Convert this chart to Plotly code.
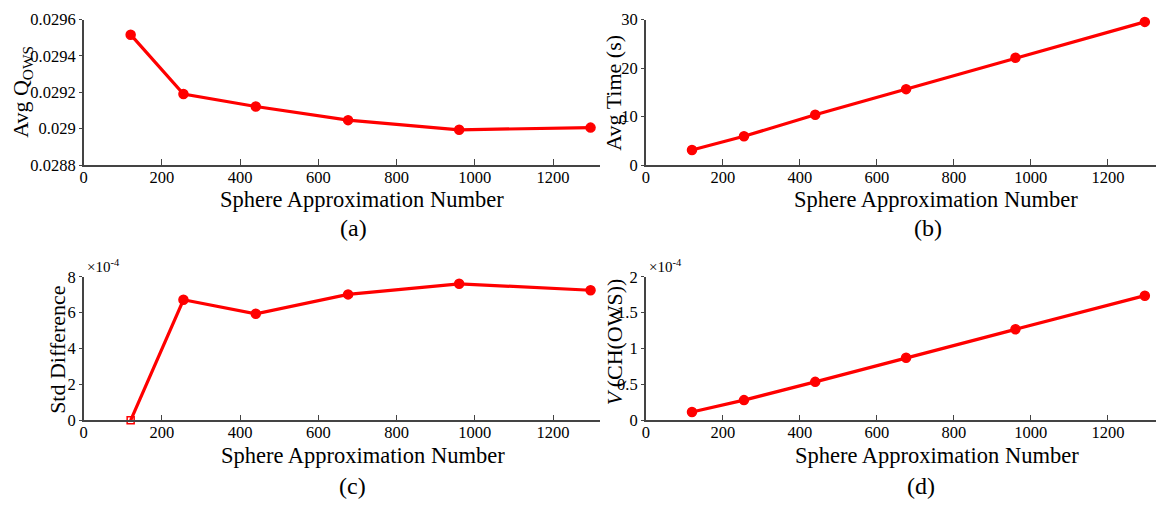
import plotly.graph_objects as go

# ---- data ----
sphere_numbers = [120, 255, 440, 676, 960, 1296]
avg_q_ows = [0.029517, 0.029191, 0.029122, 0.029047, 0.028994, 0.029006]
avg_time_s = [3.1, 5.94, 10.37, 15.66, 22.14, 29.53]
std_difference_e4 = [0.0, 6.72, 5.94, 7.02, 7.61, 7.25]
v_ch_ows_e4 = [0.116, 0.282, 0.536, 0.871, 1.268, 1.737]

x_tick_vals = [0, 200, 400, 600, 800, 1000, 1200]
ya_tick_vals = [0.0288, 0.029, 0.0292, 0.0294, 0.0296]
ya_tick_text = ["0.0288", "0.029", "0.0292", "0.0294", "0.0296"]
yb_tick_vals = [0, 10, 20, 30]
yc_tick_vals = [0, 2, 4, 6, 8]
yd_tick_vals = [0, 0.5, 1, 1.5, 2]
yd_tick_text = ["0", "0.5", "1", "1.5", "2"]

x_title = "Sphere Approximation Number"
captions = ["(a)", "(b)", "(c)", "(d)"]

W, H = 1158, 518
FONT = "Liberation Serif"
RED = "#ff0000"
AXC = "#444444"


def px(x):
    return x / W


def py(y):
    return 1 - y / H


fig = go.Figure()
series = [avg_q_ows, avg_time_s, std_difference_e4, v_ch_ows_e4]
for i, ys in enumerate(series):
    sfx = "" if i == 0 else str(i + 1)
    if i == 2:
        symbols = ["square-open"] + ["circle"] * (len(ys) - 1)
        sizes = [7] + [9] * (len(ys) - 1)
    else:
        symbols = "circle"
        sizes = 9
    fig.add_trace(go.Scatter(
        x=sphere_numbers, y=ys, mode="lines+markers",
        line=dict(color=RED, width=3.2),
        marker=dict(color=RED, size=sizes, symbol=symbols, opacity=1,
                    line=dict(color=RED, width=1.5)),
        xaxis="x" + sfx, yaxis="y" + sfx, cliponaxis=False, showlegend=False,
    ))

xdom_left = [px(80), px(598)]
xdom_right = [px(644), px(1156)]
ydom_top = [py(162), py(11)]
ydom_bot = [py(427), py(278)]

tickfont = dict(family=FONT, size=16.5, color="black")


def xax(dom, anchor, rng):
    return dict(domain=dom, anchor=anchor, range=rng, showline=True, linecolor=AXC,
                linewidth=1.5, ticks="inside", ticklen=6, tickcolor=AXC, tickwidth=1.2,
                tickvals=x_tick_vals, showgrid=False, zeroline=False, tickfont=tickfont,
                ticklabelstandoff=-4)


def yax(dom, anchor, rng, vals, text=None):
    d = dict(domain=dom, anchor=anchor, range=rng, showline=True, linecolor=AXC,
             linewidth=1.5, ticks="outside", ticklen=3, tickcolor=AXC, tickwidth=1.2,
             tickvals=vals, showgrid=False, zeroline=False, tickfont=tickfont,
             ticklabelstandoff=0)
    if text is not None:
        d["ticktext"] = text
    return d


layout = dict(
    width=W, height=H, margin=dict(l=0, r=0, t=0, b=0),
    paper_bgcolor="white", plot_bgcolor="white",
    xaxis=xax(xdom_left, "y", [0, 1320]),
    yaxis=yax(ydom_top, "x", [0.0288, 0.0296], ya_tick_vals, ya_tick_text),
    xaxis2=xax(xdom_right, "y2", [0, 1325]),
    yaxis2=yax(ydom_top, "x2", [0, 30], yb_tick_vals),
    xaxis3=xax(xdom_left, "y3", [0, 1320]),
    yaxis3=yax(ydom_bot, "x3", [0, 8], yc_tick_vals),
    xaxis4=xax(xdom_right, "y4", [0, 1325]),
    yaxis4=yax(ydom_bot, "x4", [0, 2], yd_tick_vals, yd_tick_text),
)
fig.update_layout(**layout)

ann = []


def add_text(text, x, y, size, angle=0, xanchor="center", yanchor="middle"):
    ann.append(dict(text=text, x=px(x), y=py(y), xref="paper", yref="paper",
                    showarrow=False, textangle=angle, xanchor=xanchor, yanchor=yanchor,
                    font=dict(family=FONT, size=size, color="black")))


# y titles
add_text("Avg Q<sub>OWS</sub>", 18, 86, 22, -90)
add_text("Avg Time (s)", 612, 87, 22, -90)
add_text("Std Difference", 53, 353, 22, -90)
add_text("<i>V</i>\u2009(CH(OWS))", 612, 345, 22, -90)
# x titles
add_text(x_title, 359, 197.5, 22.5)
add_text(x_title, 935, 197.5, 22.5)
add_text(x_title, 360, 463.5, 22.5)
add_text(x_title, 936, 463.5, 22.5)
# captions
add_text(captions[0], 351, 227, 24)
add_text(captions[1], 927, 227, 24)
add_text(captions[2], 350, 495, 24)
add_text(captions[3], 920, 495, 24)
# multipliers
add_text("×10<sup>-4</sup>", 81, 267, 15, xanchor="left")
add_text("×10<sup>-4</sup>", 645, 267, 15, xanchor="left")

fig.update_layout(annotations=ann)
fig.write_html(
    "out.html",
    config={"displayModeBar": False},
    post_script="document.body.style.margin='0';document.body.style.overflow='hidden';",
)
